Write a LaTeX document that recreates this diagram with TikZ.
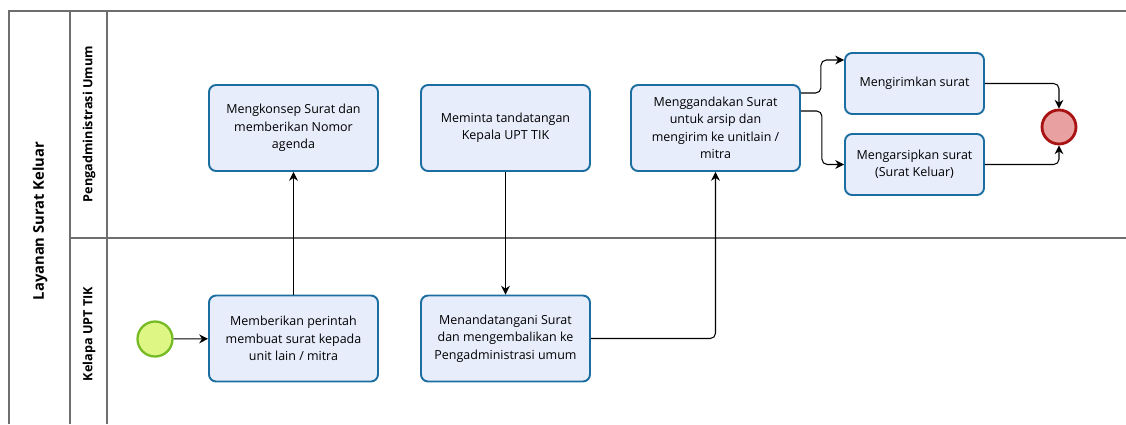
\documentclass[tikz,border=0pt]{standalone}
\usepackage{fontspec}
\setmainfont{Open Sans}
\usetikzlibrary{arrows.meta}

\definecolor{taskblue}{RGB}{28,110,160}
\definecolor{taskfill}{RGB}{232,237,252}
\definecolor{startgreen}{RGB}{118,186,38}
\definecolor{startfill}{RGB}{222,246,132}
\definecolor{endred}{RGB}{168,18,18}
\definecolor{endfill}{RGB}{232,160,160}
\definecolor{poolgray}{RGB}{110,110,110}

\tikzset{
  task/.style={draw=taskblue, fill=taskfill, line width=1.1pt, rounded corners=4pt,
    minimum width=3.38cm, minimum height=1.72cm, align=center,
    font=\fontsize{7.1}{9.9}\selectfont},
  smalltask/.style={task, minimum width=2.78cm, minimum height=1.22cm},
  flow/.style={-{Stealth[length=5pt,width=5pt]}, line width=0.6pt, rounded corners=3pt},
  lane/.style={rotate=90, font=\bfseries\fontsize{7.2}{9}\selectfont},
}

\begin{document}
\begin{tikzpicture}[x=0.02cm, y=-0.02cm]
            \useasboundingbox (0,0) rectangle (1126,424);

            % pool and lanes
            \draw[poolgray, line width=0.8pt] (9,424) -- (9,11) -- (1126,11);
            \draw[poolgray, line width=0.8pt] (70,11) -- (70,424);
            \draw[poolgray, line width=0.8pt] (107,11) -- (107,424);
            \draw[poolgray, line width=0.8pt] (70,238) -- (1126,238);
            \node[rotate=90, font=\bfseries\fontsize{8.4}{10}\selectfont] (pool) at (40,221) {Layanan Surat Keluar};
            \node[lane] (laneadmin) at (89,124) {Pengadministrasi Umum};
            \node[lane] (lanekepala) at (89,334) {Kelapa UPT TIK};

            % events
            \node[circle, draw=startgreen, fill=startfill, line width=1.3pt, minimum size=0.7cm] (start) at (155,339) {};
            \node[circle, draw=endred, fill=endfill, line width=1.6pt, minimum size=0.68cm] (end) at (1059,127) {};

            % tasks
            \node[task] (konsep) at (293.5,128) {Mengkonsep Surat dan\\memberikan Nomor\\agenda};
            \node[task] (minta) at (505.5,128) {Meminta tandatangan\\Kepala UPT TIK};
            \node[task] (ganda) at (715.5,128) {Menggandakan Surat\\untuk arsip dan\\mengirim ke unitlain /\\mitra};
            \node[smalltask] (kirim) at (914.5,83.5) {Mengirimkan surat};
            \node[smalltask] (arsip) at (914.5,164.5) {Mengarsipkan surat\\(Surat Keluar)};
            \node[task] (perintah) at (293.5,338.5) {Memberikan perintah\\membuat surat kepada\\unit lain / mitra};
            \node[task] (tanda) at (505.5,338.5) {Menandatangani Surat\\dan mengembalikan ke\\Pengadministrasi umum};

            % flows
            \draw[flow] (start) -- (perintah);
            \draw[flow] (perintah) -- (konsep);
            \draw[flow] (minta) -- (tanda);
            \draw[flow] (tanda.east) -| (ganda.south);
            \draw[flow] ([yshift=0.7cm]ganda.east) -- ++(0.4cm,0) |- ([yshift=0.47cm]kirim.west);
            \draw[flow] ([yshift=0.34cm]ganda.east) -- ++(0.42cm,0) |- (arsip.west);
            \draw[flow] (kirim.east) -| (end.north);
            \draw[flow] (arsip.east) -| (end.south);
        \end{tikzpicture}
\end{document}
